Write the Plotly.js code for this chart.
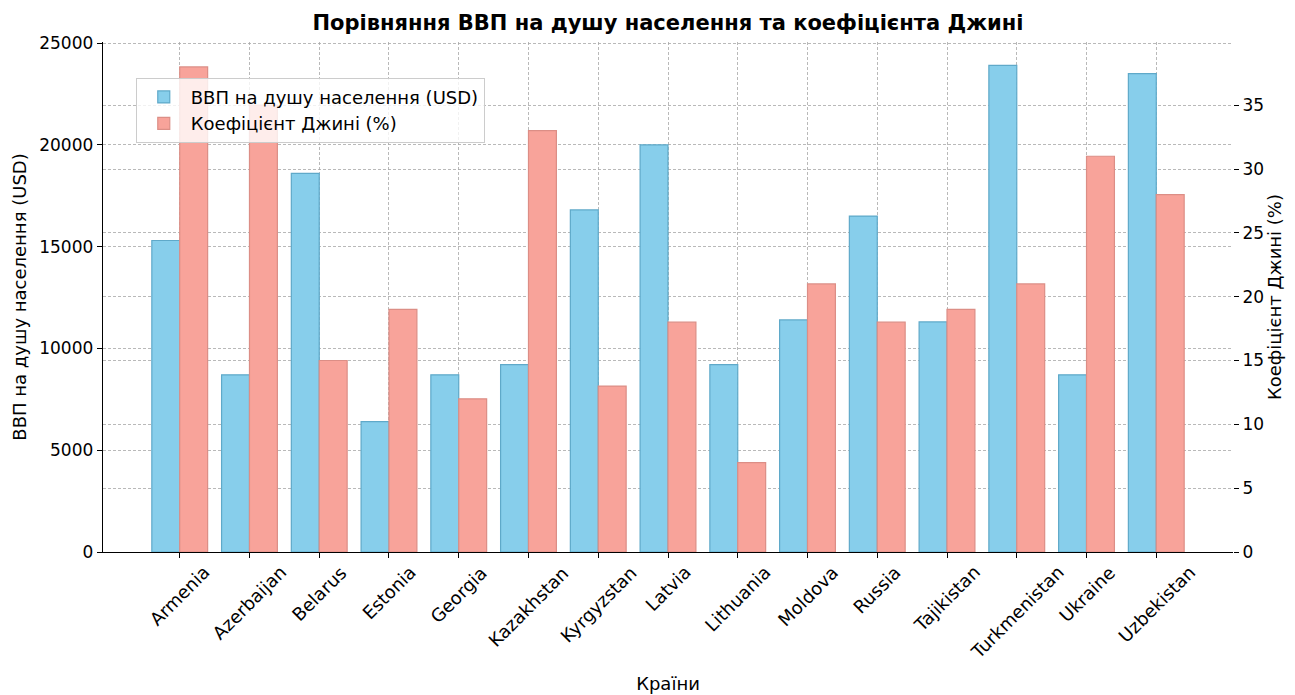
<!DOCTYPE html>
<html>
<head>
<meta charset="utf-8">
<script src="https://cdn.plot.ly/plotly-3.0.1.min.js"></script>
<style>html,body{margin:0;padding:0;background:#fff;}#chart{width:1295px;height:695px;}</style>
</head>
<body>
<div id="chart"></div>
<script>
const countries = ["Armenia","Azerbaijan","Belarus","Estonia","Georgia","Kazakhstan","Kyrgyzstan","Latvia","Lithuania","Moldova","Russia","Tajikistan","Turkmenistan","Ukraine","Uzbekistan"];
const gdpPerCapita = [15300, 8700, 18600, 6400, 8700, 9200, 16800, 20000, 9200, 11400, 16500, 11300, 23900, 8700, 23500];
const giniCoef = [38, 35, 15, 19, 12, 33, 13, 18, 7, 21, 18, 19, 21, 31, 28];
const gdpName = "ВВП на душу населення (USD)";
const giniName = "Коефіцієнт Джині (%)";
const titleText = "Порівняння ВВП на душу населення та коефіцієнта Джині";
const xTitle = "Країни";

const FONT = "DejaVu Sans";
const idx = countries.map((c, i) => i);

const traces = [
  {
    type: "bar", name: gdpName, x: idx, y: gdpPerCapita,
    width: 0.4, offset: -0.4, yaxis: "y",
    marker: {color: "#87CEEB", line: {color: "#5fa9c9", width: 1.2}}
  },
  {
    type: "bar", name: giniName, x: idx, y: giniCoef,
    width: 0.4, offset: 0, yaxis: "y2",
    marker: {color: "#f8a39a", line: {color: "#dc8e86", width: 1.2}}
  }
];

const annotations = countries.map((c, i) => ({
  text: c, x: i, xref: "x", y: 0, yref: "paper",
  xanchor: "center", yanchor: "top", yshift: -7,
  textangle: -45, showarrow: false,
  font: {family: FONT, size: 18, color: "#000"}
}));

const layout = {
  width: 1295, height: 695,
  margin: {l: 103, r: 62, t: 42, b: 143},
  paper_bgcolor: "#fff", plot_bgcolor: "#fff",
  font: {family: FONT, size: 18, color: "#000"},
  title: {text: "<b>" + titleText + "</b>", font: {family: FONT, size: 21, color: "#000"}, x: 0.5, xref: "paper", y: 0.968, yanchor: "middle"},
  showlegend: true,
  legend: {
    x: 0.029, y: 0.93, xanchor: "left", yanchor: "top",
    bgcolor: "rgba(255,255,255,0.8)", bordercolor: "#cccccc", borderwidth: 1,
    font: {family: FONT, size: 18, color: "#000"}, traceorder: "normal",
    itemwidth: 44
  },
  xaxis: {
    type: "linear", range: [-1.1, 15.1],
    tickmode: "array", tickvals: idx, ticktext: countries, showticklabels: false,
    ticks: "outside", ticklen: 5, tickcolor: "#000",
    showline: true, linecolor: "#000", linewidth: 1.3,
    showgrid: true, gridcolor: "#a8a8a8", griddash: "3px,2px", gridwidth: 0.8,
    zeroline: false,
    title: {text: xTitle, font: {family: FONT, size: 18}, standoff: 120}
  },
  yaxis: {
    range: [0, 25050], tickmode: "linear", tick0: 0, dtick: 5000, tickformat: "d",
    ticks: "outside", ticklen: 5, tickcolor: "#000",
    showline: true, linecolor: "#000", linewidth: 1.3,
    showgrid: true, gridcolor: "#a8a8a8", griddash: "3px,2px", gridwidth: 0.8,
    zeroline: false, tickfont: {family: FONT, size: 17},
    title: {text: gdpName, font: {family: FONT, size: 18}, standoff: 8}
  },
  yaxis2: {
    overlaying: "y", side: "right", range: [0, 39.95],
    tickmode: "linear", tick0: 0, dtick: 5,
    ticks: "outside", ticklen: 5, tickcolor: "#000",
    showline: false,
    showgrid: true, gridcolor: "#a8a8a8", griddash: "3px,2px", gridwidth: 0.8,
    zeroline: false, tickfont: {family: FONT, size: 17},
    title: {text: giniName, font: {family: FONT, size: 18}, standoff: 4}
  },
  annotations: annotations
};

Plotly.newPlot("chart", traces, layout, {displayModeBar: false, staticPlot: true});
</script>
</body>
</html>
